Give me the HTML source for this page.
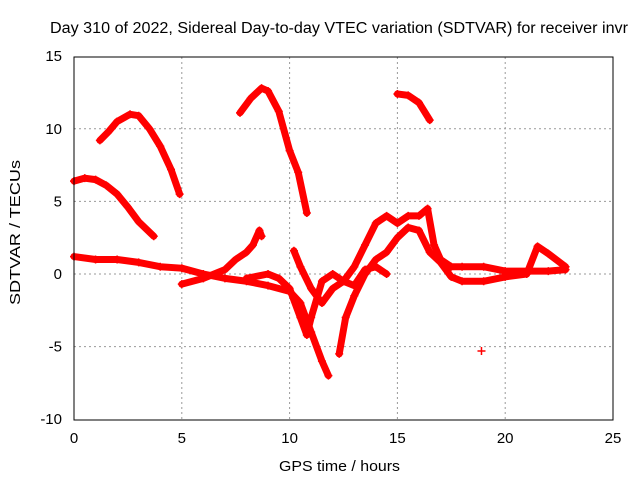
<!DOCTYPE html>
<html><head><meta charset="utf-8"><style>
body{margin:0;background:#fff}
svg{display:block;font-family:"Liberation Sans",sans-serif;font-size:15px}
</style></head><body>
<svg id="c" width="640" height="480">
<text x="50" y="33" textLength="578" lengthAdjust="spacingAndGlyphs" style="font-size:15.5px">Day 310 of 2022, Sidereal Day-to-day VTEC variation (SDTVAR) for receiver invr</text>
<text x="279" y="471" textLength="121" lengthAdjust="spacingAndGlyphs">GPS time / hours</text>
<text transform="translate(20,305) rotate(-90)" textLength="145" lengthAdjust="spacingAndGlyphs">SDTVAR / TECUs</text>
<g id="grid"></g><g id="ticks"></g><g id="series"></g>
<rect x="74" y="57" width="539" height="363" fill="none" stroke="#000"/>
</svg>
<script>
const xTicks=[0,5,10,15,20,25];
const yTicks=[-10,-5,0,5,10,15];
const seriesA=[[1.2,9.2],[1.6,9.8],[2,10.5],[2.6,11.0],[3.0,10.9],[3.5,10],[4,8.8],[4.5,7.2],[4.9,5.5]];
const seriesB=[[0,6.4],[0.5,6.6],[1,6.5],[1.5,6.1],[2,5.5],[2.5,4.6],[3,3.6],[3.7,2.6]];
const seriesC=[[7.7,11.1],[8.2,12.1],[8.7,12.8],[9,12.6],[9.5,11.2],[10,8.5],[10.4,7],[10.8,4.2]];
const seriesD=[[15.0,12.4],[15.5,12.3],[16.0,11.8],[16.5,10.6]];
const seriesE=[[0,1.2],[1,1.0],[2,1.0],[3,0.8],[4,0.5],[5,0.4],[6,0],[7,-0.3],[8,-0.5],[9,-0.8],[10,-1.2],[10.5,-2],[11,-4],[11.5,-6],[11.8,-7.0]];
const seriesF=[[5,-0.7],[6,-0.3],[7,0.3],[7.5,1],[8,1.5],[8.3,2.0],[8.6,3.0],[8.7,2.6]];
const seriesG=[[8,-0.3],[9,0],[9.5,-0.3],[10,-1],[10.5,-3],[10.8,-4.2],[11,-3],[11.5,-0.5],[12,0],[12.5,-0.5],[13,0.5],[13.5,2],[14,3.5],[14.5,4],[15,3.5],[15.5,4],[16,4],[16.4,4.5],[16.7,2],[17,1],[17.5,0.5],[18,0.5],[19,0.5],[20,0.2],[21,0.2],[22,0.2],[22.8,0.3]];
const seriesH=[[10.2,1.6],[10.5,0.5],[11,-1],[11.5,-2],[12,-1],[12.5,-0.5],[13,-0.8],[13.5,0.3],[14,0.5],[14.5,0]];
const seriesI=[[12.3,-5.5],[12.6,-3],[13,-1.5],[13.5,0],[14,1],[14.5,1.5],[15,2.5],[15.5,3.2],[16,3],[16.5,1.5],[17,0.8],[17.5,-0.2],[18,-0.5],[19,-0.5],[20,-0.2],[21,0],[21.5,1.9],[22,1.4],[22.8,0.5]];
const seriesJ=[[18.9,-5.3]];
const allSeries=[seriesA,seriesB,seriesC,seriesD,seriesE,seriesF,seriesG,seriesH,seriesI,seriesJ];
const X=v=>74+v/25*539, Y=v=>274-v*14.52;
const NS='http://www.w3.org/2000/svg';
function mk(t,a,p){const e=document.createElementNS(NS,t);for(const k in a)e.setAttribute(k,a[k]);p.appendChild(e);return e;}
const g=document.getElementById('grid'),tk=document.getElementById('ticks'),s=document.getElementById('series');
xTicks.forEach(v=>{
 if(v>0&&v<25){const l=mk('line',{x1:X(v),x2:X(v),y1:57,y2:420,stroke:'#999','stroke-dasharray':'2,3'},g);
 }
 const t=mk('text',{x:X(v),y:443,'text-anchor':'middle'},tk);t.textContent=v;
 
});
yTicks.forEach(v=>{
 if(v>-10&&v<15){const l=mk('line',{x1:74,x2:613,y1:Y(v),y2:Y(v),stroke:'#999','stroke-dasharray':'2,3'},g);
 }
 const t=mk('text',{x:62,y:Y(v)+5,'text-anchor':'end'},tk);t.textContent=v;
 
});
allSeries.forEach((d,i)=>{
 const pts=d.map(p=>X(p[0])+','+Y(p[1])).join(' ');
 const pl=mk('polyline',{points:pts,fill:'none',stroke:'#f00','stroke-width':7,'stroke-linejoin':'round','stroke-linecap':'round'},s);
 
 
 d.forEach(p=>{const m=mk('path',{d:`M${X(p[0])-4},${Y(p[1])}h8M${X(p[0])},${Y(p[1])-4}v8`,stroke:'#f00','stroke-width':1.5},s);
 
 });
});
</script>
</body></html>
